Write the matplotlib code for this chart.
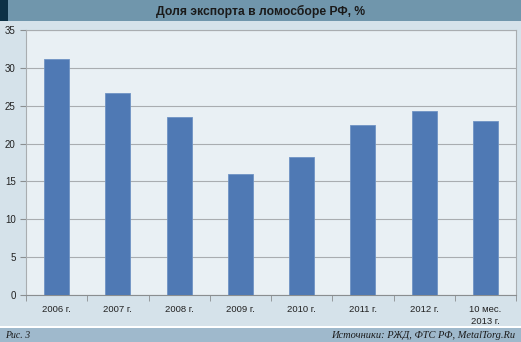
import matplotlib.pyplot as plt
from matplotlib.patches import Rectangle

years = ["2006 г.", "2007 г.", "2008 г.", "2009 г.", "2010 г.", "2011 г.", "2012 г.", "10 мес.\n2013 г."]
share = [31.2, 26.7, 23.5, 16.0, 18.2, 22.5, 24.3, 23.0]
yticks = [0, 5, 10, 15, 20, 25, 30, 35]

W, H = 521, 342
fig = plt.figure(figsize=(W / 100, H / 100), dpi=100)
fig.patch.set_facecolor('#d5e2ea')

# header band
fig.patches.append(Rectangle((0, 1 - 21 / H), 1, 21 / H, transform=fig.transFigure,
                             facecolor='#7096ac', edgecolor='none', zorder=0))
fig.patches.append(Rectangle((0, 1 - 21 / H), 8 / W, 21 / H, transform=fig.transFigure,
                             facecolor='#0d3146', edgecolor='none', zorder=1))
fig.text(0.5, 1 - 11 / H, "Доля экспорта в ломосборе РФ, %", ha='center', va='center',
         fontsize=8.7, fontweight='bold', color='#1a1a1a', family='Liberation Sans')

# footer band
fig.patches.append(Rectangle((0, 0), 1, 14 / H, transform=fig.transFigure,
                             facecolor='#9fb9cc', edgecolor='none', zorder=0))
fig.patches.append(Rectangle((0, 14 / H), 1, 2 / H, transform=fig.transFigure,
                             facecolor='white', edgecolor='none', zorder=0))
fig.text(5 / W, 7 / H, "Рис. 3", ha='left', va='center', fontsize=7, style='italic',
         color='#1a1a1a', family='Liberation Serif')
fig.text(1 - 6 / W, 7 / H, "Источники: РЖД, ФТС РФ, MetalTorg.Ru", ha='right', va='center',
         fontsize=7.5, style='italic', color='#1a1a1a', family='Liberation Serif')

ax = fig.add_axes([26 / W, 1 - 295 / H, 490 / W, 265 / H])
ax.set_facecolor('#e9f0f4')
x = list(range(len(years)))
ax.bar(x, share, width=0.41, color='#4f79b4', edgecolor='#6f93c4', linewidth=0.6, zorder=3)
ax.set_xlim(-0.5, len(years) - 0.5)
ax.set_ylim(0, 35)
ax.set_yticks(yticks)
ax.yaxis.grid(True, color='#a9adb0', linewidth=0.8, zorder=1)
ax.set_xticks(x)
ax.set_xticklabels(years, fontsize=6.8, family='Liberation Sans', color='#222222', linespacing=1.5)
ax.set_xticks([i - 0.5 for i in range(len(years) + 1)], minor=True)
ax.tick_params(axis='x', which='major', length=0, pad=7)
ax.tick_params(axis='x', which='minor', length=4, color='#8a8e90')
ax.tick_params(axis='y', length=4, color='#8a8e90', labelsize=7, labelcolor='#222222')
for lab in ax.get_yticklabels():
    lab.set_family('Liberation Sans')
for s in ax.spines.values():
    s.set_color('#a9adb0')
    s.set_linewidth(0.8)
ax.spines['bottom'].set_color('#8a8e90')

fig.savefig('out.png', dpi=100, facecolor=fig.get_facecolor())
